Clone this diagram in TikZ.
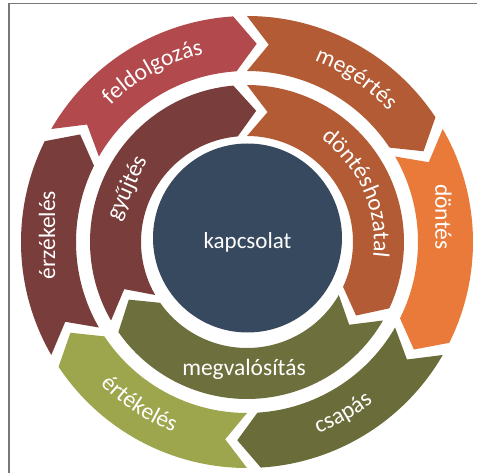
\documentclass[tikz,border=0pt]{standalone}
\usepackage{fontspec}
\setmainfont{Carlito}
\usetikzlibrary{decorations.text}
\definecolor{cFeld}{RGB}{178,73,76}
\definecolor{cMeg}{RGB}{178,91,52}
\definecolor{cDont}{RGB}{233,122,58}
\definecolor{cCsap}{RGB}{106,108,58}
\definecolor{cErtek}{RGB}{157,165,77}
\definecolor{cErz}{RGB}{121,61,59}
\definecolor{cGyuj}{RGB}{121,61,59}
\definecolor{cDh}{RGB}{178,91,52}
\definecolor{cMegv}{RGB}{109,111,61}
\definecolor{cNavy}{RGB}{55,73,94}
\definecolor{framegray}{RGB}{120,120,120}
\newcommand\lblfont{\fontsize{23.5}{23.5}\selectfont\color{white}}
\tikzset{
  lbl/.style={text=white, font=\fontsize{23.5}{23.5}\selectfont, inner sep=0pt},
  hublbl/.style={text=white, font=\fontsize{23}{23}\selectfont, inner sep=0pt},
}
% colour, tail angle, head-corner angle, inner r, outer r, tip offset
\newcommand\ringseg[6]{%
  \pgfmathsetmacro\tipA{#3-#6}%
  \pgfmathsetmacro\notA{#2-#6}%
  \pgfmathsetmacro\midR{(#4+#5)/2}%
  \fill[#1] (#2:#5) arc[start angle=#2, end angle=#3, radius=#5]
    -- (\tipA:\midR) -- (#3:#4) arc[start angle=#3, end angle=#2, radius=#4]
    -- (\notA:\midR) -- cycle;}
\newcommand\cwlabel[3]{%
  \pgfmathsetmacro\la{#2+50}\pgfmathsetmacro\lb{#2-50}%
  \path[decorate, decoration={text along path, text align=center, text={|\lblfont|#1}}]
    (\la:#3) arc[start angle=\la, end angle=\lb, radius=#3];}
\newcommand\ccwlabel[3]{%
  \pgfmathsetmacro\la{#2-50}\pgfmathsetmacro\lb{#2+50}%
  \path[decorate, decoration={text along path, text align=center, text={|\lblfont|#1}}]
    (\la:#3) arc[start angle=\la, end angle=\lb, radius=#3];}
\begin{document}
\begin{tikzpicture}[x=1pt,y=1pt]
\useasboundingbox (-247,-231) rectangle (230,242);
\fill[white] (-247,-231) rectangle (230,242);
\draw[framegray, line width=1.2] (-238,-231) -- (-238,238.5) -- (230,238.5);
% outer ring
\ringseg{cFeld}{150}{93.5}{171}{226}{6.3}
\ringseg{cMeg}{90}{33.5}{171}{226}{6.3}
\ringseg{cDont}{30}{-26.5}{171}{226}{6.3}
\ringseg{cCsap}{-30}{-86.5}{171}{226}{6.3}
\ringseg{cErtek}{-90}{-146.5}{171}{226}{6.3}
\ringseg{cErz}{210}{153.5}{171}{226}{6.3}
% inner ring
\ringseg{cGyuj}{210}{95}{106}{157}{9}
\ringseg{cDh}{90}{-25}{106}{157}{9}
\ringseg{cMegv}{-30}{-145}{106}{157}{9}
% hub
\node[circle, fill=cNavy, minimum size=189, inner sep=0pt] (hub) at (0.5,4) {};
\node[hublbl] (kapcsolat) at (0.5,0) {kapcsolat};
% straight labels
\node[lbl, rotate=90] (erzekeles) at (178:200) {érzékelés};
\node[lbl, rotate=-90] (dontes) at (7.3:198) {döntés};
\node[lbl, rotate=65.8] (gyujtes) at (155.8:131) {gyűjtés};
\node[lbl] (megvalositas) at (-3,-127) {megvalósítás};
% curved labels
\cwlabel{feldolgozás}{119}{193}
\cwlabel{megértés}{56.2}{193}
\cwlabel{döntéshozatal}{23.7}{127}
\ccwlabel{csapás}{-60.7}{204}
\ccwlabel{értékelés}{-123.5}{204}
\end{tikzpicture}
\end{document}
